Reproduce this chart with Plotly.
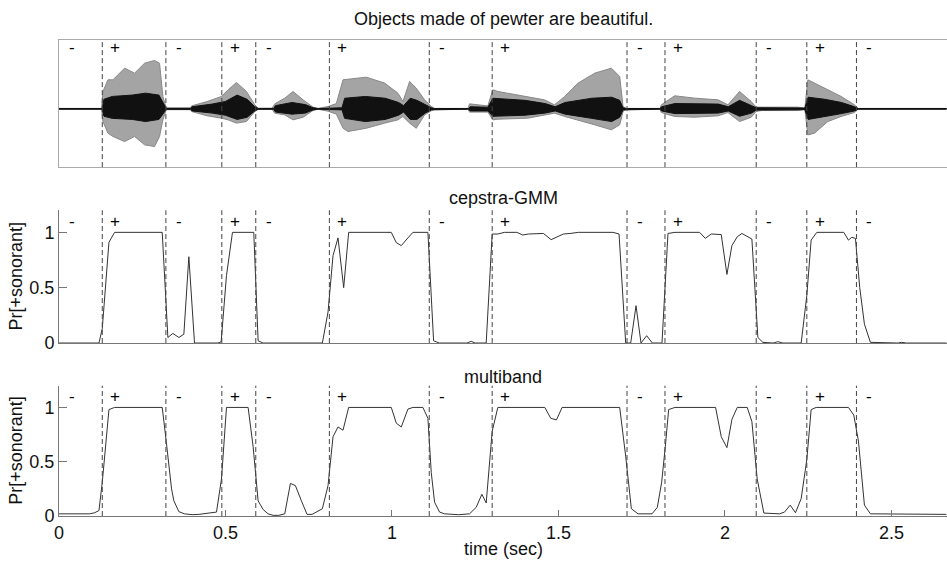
import plotly.graph_objects as go

# ---------------- data ----------------
boundaries = [0.0, 0.130, 0.321, 0.489, 0.591, 0.812, 1.112, 1.301, 1.706, 1.820, 2.094, 2.246, 2.395]
seg_labels = ["-", "+", "-", "+", "-", "+", "-", "+", "-", "+", "-", "+", "-"]

# outer envelope of the waveform
wave_t = [0.0, 0.128, 0.132, 0.147, 0.162, 0.197, 0.227, 0.257, 0.287, 0.302, 0.312, 0.322,
          0.395, 0.398, 0.445, 0.488, 0.508, 0.533, 0.563, 0.588, 0.598, 0.640, 0.648, 0.678,
          0.703, 0.733, 0.763, 0.778, 0.808, 0.833, 0.853, 0.868, 0.923, 0.978, 1.018, 1.033,
          1.053, 1.073, 1.098, 1.118, 1.128, 1.228, 1.233, 1.288, 1.303, 1.318, 1.408, 1.458,
          1.488, 1.519, 1.559, 1.609, 1.659, 1.684, 1.694, 1.704, 1.805, 1.809, 1.849, 1.909,
          1.979, 2.009, 2.044, 2.079, 2.094, 2.110, 2.220, 2.240, 2.249, 2.269, 2.309, 2.349,
          2.389, 2.400, 2.665]
wave_hi = [0.004, 0.004, 0.164, 0.274, 0.274, 0.384, 0.337, 0.431, 0.457, 0.431, 0.117, 0.008,
           0.008, 0.028, 0.069, 0.117, 0.180, 0.249, 0.164, 0.038, 0.005, 0.005, 0.047, 0.101,
           0.164, 0.085, 0.016, 0.004, 0.022, 0.050, 0.274, 0.280, 0.299, 0.243, 0.148, 0.069,
           0.258, 0.195, 0.085, 0.022, 0.004, 0.004, 0.047, 0.028, 0.180, 0.164, 0.117, 0.085,
           0.038, 0.117, 0.243, 0.337, 0.384, 0.306, 0.022, 0.004, 0.004, 0.038, 0.123, 0.101,
           0.085, 0.038, 0.164, 0.069, 0.016, 0.016, 0.016, 0.004, 0.274, 0.243, 0.180, 0.117,
           0.038, 0.004, 0.004]
wave_lo = [-0.004, -0.004, -0.120, -0.230, -0.261, -0.309, -0.261, -0.340, -0.356, -0.261, -0.104, -0.008,
           -0.008, -0.025, -0.066, -0.088, -0.104, -0.135, -0.120, -0.025, -0.005, -0.005, -0.041, -0.057,
           -0.104, -0.079, -0.016, -0.004, -0.022, -0.050, -0.183, -0.214, -0.183, -0.135, -0.104, -0.072,
           -0.135, -0.183, -0.057, -0.019, -0.004, -0.004, -0.031, -0.031, -0.104, -0.098, -0.088, -0.057,
           -0.041, -0.072, -0.110, -0.151, -0.198, -0.151, -0.025, -0.004, -0.004, -0.035, -0.072, -0.079,
           -0.066, -0.035, -0.120, -0.079, -0.025, -0.016, -0.016, -0.004, -0.246, -0.230, -0.120, -0.072,
           -0.035, -0.004, -0.004]

# dense dark core of the waveform
core_t = [0.0, 0.130, 0.135, 0.160, 0.220, 0.260, 0.300, 0.312, 0.322, 0.395,
          0.400, 0.460, 0.500, 0.535, 0.565, 0.588, 0.598, 0.645, 0.650, 0.700,
          0.740, 0.763, 0.778, 0.850, 0.858, 0.920, 0.980, 1.020, 1.035, 1.055,
          1.075, 1.100, 1.118, 1.128, 1.230, 1.235, 1.288, 1.303, 1.400, 1.460,
          1.490, 1.520, 1.600, 1.660, 1.684, 1.694, 1.704, 1.805, 1.810, 1.850,
          1.980, 2.010, 2.044, 2.080, 2.094, 2.240, 2.250, 2.300, 2.350, 2.389,
          2.400, 2.665]
core_hi = [0.003, 0.003, 0.09, 0.117, 0.13, 0.148, 0.13, 0.06, 0.005, 0.005,
           0.02, 0.045, 0.07, 0.13, 0.09, 0.02, 0.004, 0.004, 0.03, 0.06,
           0.04, 0.01, 0.003, 0.01, 0.10, 0.117, 0.10, 0.06, 0.03, 0.10,
           0.08, 0.04, 0.01, 0.003, 0.003, 0.02, 0.015, 0.10, 0.08, 0.05,
           0.02, 0.06, 0.10, 0.11, 0.08, 0.01, 0.003, 0.003, 0.02, 0.05,
           0.045, 0.02, 0.08, 0.03, 0.01, 0.008, 0.11, 0.09, 0.06, 0.02,
           0.003, 0.003]
core_lo = [-0.003, -0.003, -0.07, -0.09, -0.10, -0.12, -0.10, -0.05, -0.005, -0.005,
           -0.02, -0.04, -0.06, -0.10, -0.08, -0.02, -0.004, -0.004, -0.03, -0.05,
           -0.04, -0.01, -0.003, -0.01, -0.09, -0.12, -0.10, -0.06, -0.03, -0.10,
           -0.10, -0.04, -0.01, -0.003, -0.003, -0.02, -0.02, -0.07, -0.06, -0.04,
           -0.02, -0.05, -0.09, -0.12, -0.08, -0.01, -0.003, -0.003, -0.02, -0.045,
           -0.04, -0.02, -0.07, -0.04, -0.012, -0.008, -0.10, -0.07, -0.045, -0.02,
           -0.003, -0.003]

gmm_t = [0.0, 0.120, 0.130, 0.150, 0.167, 0.310, 0.327, 0.342, 0.360, 0.375,
         0.390, 0.407, 0.477, 0.487, 0.503, 0.521, 0.585, 0.598, 0.613, 0.791,
         0.808, 0.823, 0.838, 0.855, 0.870, 0.998, 1.013, 1.028, 1.045, 1.063,
         1.108, 1.125, 1.142, 1.225, 1.238, 1.250, 1.283, 1.301, 1.318, 1.338,
         1.375, 1.393, 1.410, 1.430, 1.455, 1.478, 1.495, 1.515, 1.535, 1.560,
         1.664, 1.682, 1.702, 1.717, 1.733, 1.748, 1.765, 1.782, 1.811, 1.829,
         1.850, 1.924, 1.941, 1.959, 1.989, 2.006, 2.021, 2.037, 2.051, 2.081,
         2.099, 2.114, 2.145, 2.159, 2.174, 2.229, 2.246, 2.259, 2.276, 2.357,
         2.371, 2.381, 2.392, 2.405, 2.419, 2.437, 2.520, 2.530, 2.545, 2.665]
gmm_v = [0.0, 0.0, 0.13, 0.91, 1.0, 1.0, 0.05, 0.087, 0.05, 0.08,
         0.78, 0.0, 0.0, 0.01, 0.61, 1.0, 1.0, 0.02, 0.0, 0.0,
         0.28, 0.79, 0.95, 0.50, 1.0, 1.0, 0.907, 0.88, 0.94, 1.0,
         1.0, 0.02, 0.0, 0.0, 0.015, 0.0, 0.0, 0.985, 0.985, 1.0,
         1.0, 0.976, 0.985, 0.99, 0.99, 0.934, 0.955, 0.985, 0.99, 1.0,
         1.0, 0.985, 0.0, 0.0, 0.337, 0.0, 0.066, 0.0, 0.0, 0.99,
         1.0, 1.0, 0.946, 0.985, 0.98, 0.62, 0.88, 0.96, 0.99, 0.94,
         0.05, 0.006, 0.0, 0.012, 0.0, 0.0, 0.43, 0.93, 1.0, 1.0,
         0.93, 0.955, 0.945, 0.50, 0.17, 0.006, 0.0, 0.006, 0.0, 0.0]

mb_t = [0.0, 0.092, 0.107, 0.120, 0.130, 0.140, 0.150, 0.167, 0.310, 0.322,
        0.338, 0.345, 0.360, 0.377, 0.400, 0.420, 0.458, 0.473, 0.488, 0.503,
        0.568, 0.583, 0.598, 0.613, 0.628, 0.643, 0.660, 0.678, 0.695, 0.710,
        0.728, 0.745, 0.760, 0.773, 0.791, 0.808, 0.823, 0.838, 0.853, 0.870,
        0.998, 1.013, 1.028, 1.048, 1.063, 1.093, 1.108, 1.118, 1.128, 1.143,
        1.158, 1.200, 1.233, 1.253, 1.270, 1.283, 1.301, 1.318, 1.459, 1.477,
        1.494, 1.511, 1.684, 1.702, 1.719, 1.739, 1.781, 1.797, 1.810, 1.821,
        1.831, 1.850, 1.972, 1.989, 2.006, 2.021, 2.037, 2.067, 2.081, 2.097,
        2.117, 2.164, 2.179, 2.196, 2.212, 2.229, 2.246, 2.259, 2.274, 2.371,
        2.387, 2.401, 2.419, 2.437, 2.665]
mb_v = [0.02, 0.02, 0.03, 0.05, 0.31, 0.64, 0.98, 1.0, 1.0, 0.69,
        0.25, 0.14, 0.04, 0.02, 0.012, 0.015, 0.027, 0.036, 0.34, 1.0,
        1.0, 0.64, 0.14, 0.06, 0.02, 0.006, 0.006, 0.02, 0.30, 0.28,
        0.14, 0.015, 0.015, 0.04, 0.067, 0.28, 0.73, 0.82, 0.79, 1.0,
        1.0, 0.855, 0.82, 0.985, 1.0, 1.0, 0.9, 0.4, 0.127, 0.036,
        0.02, 0.012, 0.02, 0.08, 0.20, 0.12, 0.78, 1.0, 1.0, 0.9,
        0.885, 1.0, 1.0, 0.55, 0.067, 0.02, 0.02, 0.08, 0.31, 0.64,
        0.98, 1.0, 1.0, 0.73, 0.63, 0.89, 1.0, 1.0, 0.87, 0.34,
        0.027, 0.02, 0.036, 0.10, 0.03, 0.16, 0.52, 0.98, 1.0, 1.0,
        0.93, 0.69, 0.10, 0.02, 0.015]

x_ticks = [0, 0.5, 1, 1.5, 2, 2.5]
x_tick_text = ["0", "0.5", "1", "1.5", "2", "2.5"]
y_ticks = [0, 0.5, 1]
y_tick_text = ["0", "0.5", "1"]

title_top = "Objects made of pewter are beautiful."
title_mid = "cepstra-GMM"
title_bot = "multiband"
ylabel = "Pr[+sonorant]"
xlabel = "time (sec)"

# ---------------- figure ----------------
FONT = "Liberation Sans, Arial, Helvetica, sans-serif"
TXT = "#111"
XR = [0, 2.667]
fig = go.Figure()

# waveform: outer envelope (gray) and dense core (black)
fig.add_trace(go.Scatter(
    x=wave_t + wave_t[::-1], y=wave_hi + wave_lo[::-1],
    fill="toself", fillcolor="#a4a4a4", mode="lines",
    line=dict(color="#888", width=1), xaxis="x", yaxis="y",
    hoverinfo="skip", showlegend=False))
fig.add_trace(go.Scatter(
    x=core_t + core_t[::-1], y=core_hi + core_lo[::-1],
    fill="toself", fillcolor="#111", mode="lines",
    line=dict(color="#111", width=1), xaxis="x", yaxis="y",
    hoverinfo="skip", showlegend=False))

fig.add_trace(go.Scatter(x=gmm_t, y=gmm_v, mode="lines",
                         line=dict(color="#333", width=1),
                         xaxis="x2", yaxis="y2", showlegend=False))
fig.add_trace(go.Scatter(x=mb_t, y=mb_v, mode="lines",
                         line=dict(color="#333", width=1),
                         xaxis="x3", yaxis="y3", showlegend=False))

# dashed boundaries and +/- labels
label_y = {"y": 0.58, "y2": 1.1, "y3": 1.1}
for xa, ya in [("x", "y"), ("x2", "y2"), ("x3", "y3")]:
    for b in boundaries[1:]:
        fig.add_shape(type="line", xref=xa, yref=ya + " domain", x0=b, x1=b, y0=0, y1=1,
                      line=dict(color="#444", width=1, dash="5px,3px"))
    for b, lab in zip(boundaries, seg_labels):
        fig.add_annotation(x=b, y=label_y[ya], xref=xa, yref=ya, text=lab, showarrow=False,
                           xshift=13, xanchor="center", yanchor="middle",
                           font=dict(family=FONT, size=17, color="#000"))

axis_common = dict(range=XR, showgrid=False, zeroline=False)
tickfont = dict(family=FONT, size=18, color=TXT)
fig.update_layout(
    width=947, height=565,
    margin=dict(l=59, r=0, t=40, b=49),
    paper_bgcolor="white", plot_bgcolor="white",
    font=dict(family=FONT, size=18, color=TXT),
    xaxis=dict(**axis_common, domain=[0, 1], anchor="y", showticklabels=False, ticks="",
               showline=True, mirror=True, linecolor="#aaa", linewidth=1),
    yaxis=dict(domain=[0.733, 1.0], range=[-0.55, 0.65], showgrid=False, zeroline=False,
               showticklabels=False, ticks="", showline=True, mirror=True,
               linecolor="#aaa", linewidth=1),
    xaxis2=dict(**axis_common, domain=[0, 1], anchor="y2", showticklabels=False, ticks="",
                showline=True, linecolor="#777", linewidth=1),
    yaxis2=dict(domain=[0.3634, 0.6424], range=[0, 1.2], anchor="x2", showgrid=False,
                zeroline=False, tickvals=y_ticks, ticktext=y_tick_text, ticks="inside",
                ticklen=8, tickcolor="#777", showline=True, linecolor="#777", linewidth=1,
                tickfont=tickfont),
    xaxis3=dict(**axis_common, domain=[0, 1], anchor="y3", tickvals=x_ticks,
                ticktext=x_tick_text, ticks="inside", ticklen=6, tickcolor="#777",
                showline=True, linecolor="#777", linewidth=1, tickfont=tickfont),
    yaxis3=dict(domain=[0.0, 0.2737], range=[0, 1.2], anchor="x3", showgrid=False,
                zeroline=False, tickvals=y_ticks, ticktext=y_tick_text, ticks="inside",
                ticklen=8, tickcolor="#777", showline=True, linecolor="#777", linewidth=1,
                tickfont=tickfont),
)

# titles and axis labels
fig.add_annotation(text=title_top, xref="paper", yref="paper", x=0.5, y=1.0, yshift=21,
                   xanchor="center", yanchor="middle", showarrow=False,
                   font=dict(family=FONT, size=18, color=TXT))
fig.add_annotation(text=title_mid, xref="paper", yref="y2 domain", x=0.5, y=1.0, yshift=12,
                   xanchor="center", yanchor="middle", showarrow=False,
                   font=dict(family=FONT, size=18, color=TXT))
fig.add_annotation(text=title_bot, xref="paper", yref="y3 domain", x=0.5, y=1.0, yshift=9,
                   xanchor="center", yanchor="middle", showarrow=False,
                   font=dict(family=FONT, size=18, color=TXT))
for ya in ["y2", "y3"]:
    fig.add_annotation(text=ylabel, xref="paper", yref=ya + " domain", x=0, y=0.5, xshift=-43,
                       xanchor="center", yanchor="middle", textangle=-90, showarrow=False,
                       font=dict(family=FONT, size=18, color=TXT))
fig.add_annotation(text=xlabel, xref="paper", yref="paper", x=0.5, y=0, yshift=-33,
                   xanchor="center", yanchor="middle", showarrow=False,
                   font=dict(family=FONT, size=18, color=TXT))

fig.write_html("out.html", config={"displayModeBar": False},
               post_script="document.body.style.margin='0';document.body.style.overflow='hidden';")
